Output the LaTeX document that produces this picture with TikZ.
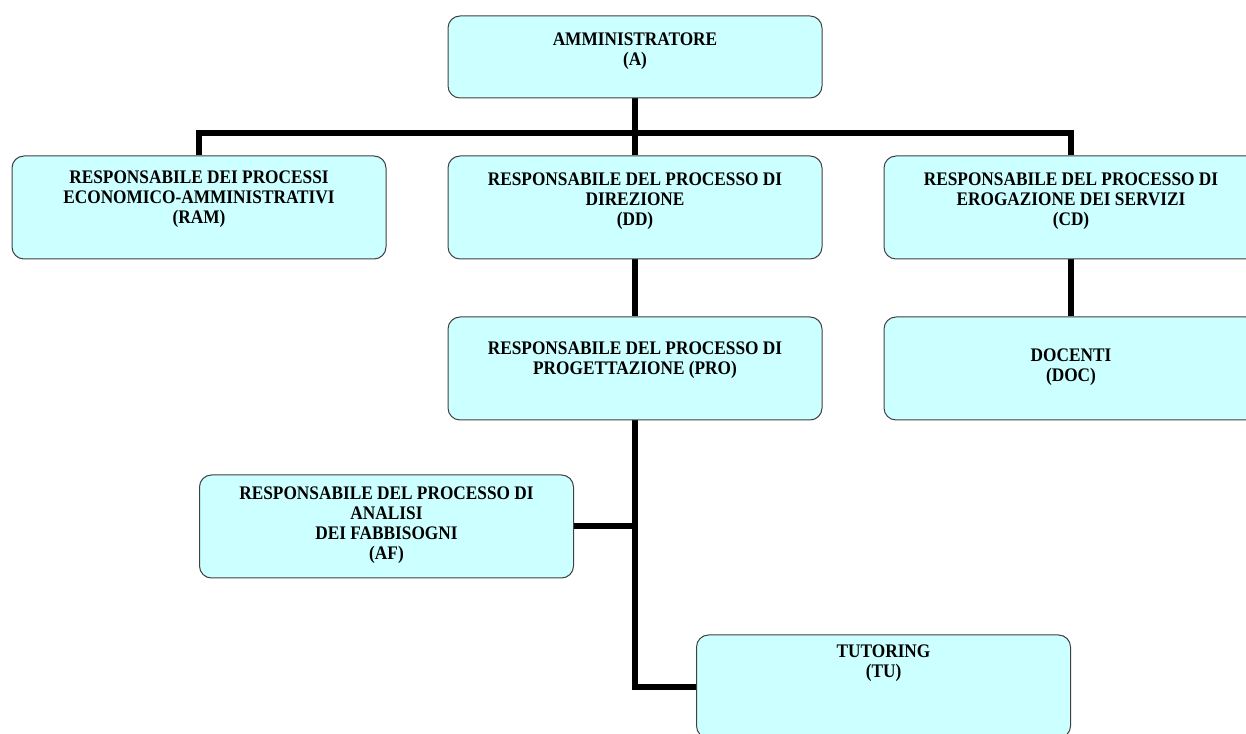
\documentclass[tikz,border=0pt]{standalone}
\usepackage{fontspec}
\setmainfont{Liberation Serif}
\newfontfamily\boxfont[FakeStretch=0.9]{Liberation Serif}
\usetikzlibrary{positioning, backgrounds}
\definecolor{boxfill}{RGB}{204,255,255}
\tikzset{%
  unit/.style={draw=black!75, line width=1pt, rounded corners=12pt, fill=boxfill,
    minimum width=374pt, minimum height=103pt, inner sep=0pt},
  topunit/.style={unit, minimum height=82pt},
  caption/.style={align=center, inner sep=0pt, text=black,
    font=\boxfont\fontsize{19.2}{20}\selectfont\bfseries},
  link/.style={line width=6pt}
}

\begin{document}
\begin{tikzpicture}[x=1pt, y=1pt]
  \useasboundingbox (0,0) rectangle (1246,733);

  \node[topunit] (A) at (635,676) {};
  \node[unit] (DD) [below = 57pt of A] {};
  \node[unit] (RAM) [left = 61pt of DD] {};
  \node[unit] (CD) [right = 61pt of DD] {};
  \node[unit] (PRO) [below = 57pt of DD] {};
  \node[unit] (DOC) [below = 57pt of CD] {};
  \node[unit] (AF) at (386.5,206.5) {};
  \node[unit] (TU) at (883.5,46.5) {};

  \node[caption] (A-t) [below = 17pt of A.north] {AMMINISTRATORE\\(A)};
  \node[caption] (RAM-t) [below = 15pt of RAM.north] {RESPONSABILE DEI PROCESSI\\ECONOMICO-AMMINISTRATIVI\\(RAM)};
  \node[caption] (DD-t) [below = 17pt of DD.north] {RESPONSABILE DEL PROCESSO DI\\DIREZIONE\\(DD)};
  \node[caption] (CD-t) [below = 17pt of CD.north] {RESPONSABILE DEL PROCESSO DI\\EROGAZIONE DEI SERVIZI\\(CD)};
  \node[caption] (PRO-t) [below = 25pt of PRO.north] {RESPONSABILE DEL PROCESSO DI\\PROGETTAZIONE (PRO)};
  \node[caption] (DOC-t) [below = 32pt of DOC.north] {DOCENTI\\(DOC)};
  \node[caption] (AF-t) [below = 12pt of AF.north] {RESPONSABILE DEL PROCESSO DI\\ANALISI\\DEI FABBISOGNI\\(AF)};
  \node[caption] (TU-t) [below = 10pt of TU.north] {TUTORING\\(TU)};

  \coordinate (bus) at (635,600);

  \begin{scope}[on background layer]
    \draw[link] (A.south) -- (DD.north);
    \draw[link] (RAM.north) |- (bus) -| (CD.north);
    \draw[link] (DD) -- (PRO);
    \draw[link] (CD) -- (DOC);
    \draw[link] (PRO.south) |- (TU.west);
    \draw[link] (AF.east) -- (AF.east -| PRO.south);
  \end{scope}
\end{tikzpicture}
\end{document}
